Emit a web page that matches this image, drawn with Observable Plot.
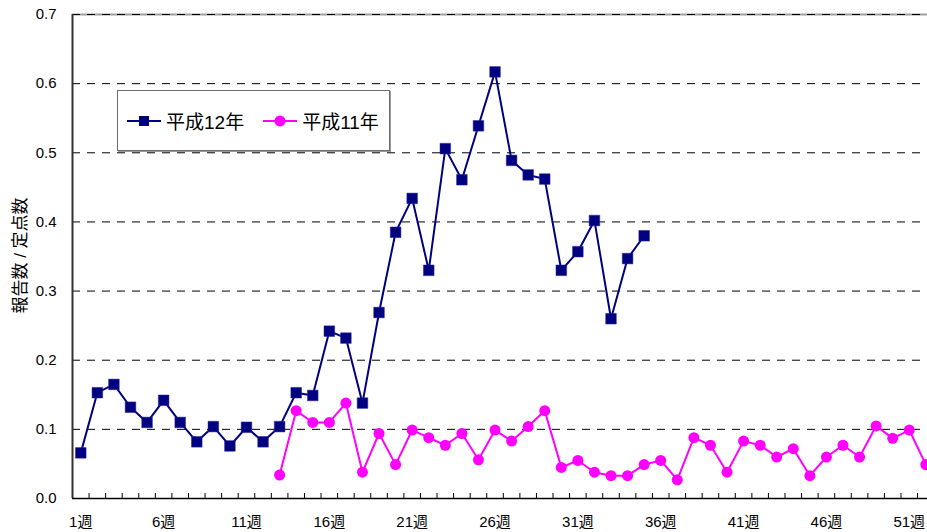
<!DOCTYPE html>
<html>
<head>
<meta charset="utf-8">
<script src="https://cdn.jsdelivr.net/npm/d3@7"></script>
<script src="https://cdn.jsdelivr.net/npm/@observablehq/plot@0.6"></script>
<style>
  html, body { margin: 0; padding: 0; background: #fff; }
  #wrap { position: relative; width: 927px; height: 532px; overflow: hidden; font-family: 'Liberation Sans', Arial, 'Noto Sans CJK JP', sans-serif; }
  #legend { position: absolute; left: 117px; top: 90px; width: 271px; height: 59px; border: 1px solid #6e6e6e; box-shadow: 1px 1px 0 #9a9a9a; background: #fff; display: flex; align-items: center; font-size: 19px; color: #000; }
  #legend .item { display: flex; align-items: center; }
  #legend svg { display: block; }
</style>
</head>
<body>
<div id="wrap"></div>
<script>
// ---- data ----
const seriesNames = ["平成12年", "平成11年"];
const seriesColors = ["#000080", "#FF00FF"];
// 平成12年: weeks 1–35
const heisei12Start = 1;
const heisei12 = [0.066,0.153,0.165,0.132,0.110,0.142,0.110,0.082,0.104,0.076,
                  0.103,0.082,0.104,0.153,0.149,0.242,0.232,0.138,0.269,0.385,
                  0.434,0.330,0.506,0.461,0.539,0.617,0.489,0.468,0.462,0.330,
                  0.357,0.402,0.260,0.347,0.380];
// 平成11年: weeks 13–52
const heisei11Start = 13;
const heisei11 = [0.034,0.127,0.110,0.110,0.138,0.038,0.094,0.049,0.099,0.088,
                  0.077,0.094,0.056,0.099,0.083,0.104,0.127,0.045,0.055,0.038,
                  0.033,0.033,0.049,0.055,0.027,0.088,0.077,0.038,0.083,0.077,
                  0.060,0.072,0.033,0.060,0.077,0.060,0.105,0.087,0.099,0.049];
const weekTickPositions = [1,6,11,16,21,26,31,36,41,46,51];
const weekTickLabels = ["1週","6週","11週","16週","21週","26週","31週","36週","41週","46週","51週"];
const yTicks = [0,0.1,0.2,0.3,0.4,0.5,0.6,0.7];
const yLabel = "報告数 / 定点数";

// ---- build ----
const d12 = heisei12.map((v, i) => ({week: heisei12Start + i, value: v}));
const d11 = heisei11.map((v, i) => ({week: heisei11Start + i, value: v}));
const xDomain = [0.5, 52.1];
const boundaries = d3.range(1.5, 52.5, 1);
const W = 927, H = 532, mT = 14, mB = 34, mL = 72, mR = 0;
const font = "'Liberation Sans', Arial, 'Noto Sans CJK JP', sans-serif";

const chart = Plot.plot({
  width: W, height: H,
  marginLeft: mL, marginRight: mR, marginTop: mT, marginBottom: mB,
  style: {fontFamily: font, fontSize: "15px", color: "#000", background: "#fff", overflow: "hidden"},
  x: {type: "linear", domain: xDomain, axis: null},
  y: {domain: [0, 0.7], axis: null},
  marks: [
    Plot.ruleY(yTicks.slice(1, -1), {stroke: "#000", strokeWidth: 1, strokeDasharray: "8,7"}),
    Plot.ruleY([yTicks[yTicks.length - 1]], {stroke: "#a0a0a0", strokeWidth: 2}),
    Plot.ruleY([yTicks[yTicks.length - 1]], {stroke: "#000", strokeWidth: 1, strokeDasharray: "8,7"}),
    Plot.axisY({ticks: yTicks, tickFormat: d3.format(".1f"), tickSize: 0, tickPadding: 16,
      fontSize: 15, label: null}),
    Plot.text([yLabel], {frameAnchor: "left", textAnchor: "middle", rotate: -90, dx: -52, dy: -1, fontSize: 17, fill: "#000"}),
    Plot.axisX({ticks: weekTickPositions, tickFormat: d => weekTickLabels[weekTickPositions.indexOf(d)],
      tickSize: 0, tickPadding: 18, fontSize: 15, label: null}),
    Plot.axisX({ticks: boundaries, tickSize: 5, dy: -5, tickFormat: () => "", label: null, stroke: "#000"}),
    Plot.ruleX([xDomain[0]], {stroke: "#333", strokeWidth: 2}),
    Plot.ruleY([0], {stroke: "#000", strokeWidth: 1.5}),
    Plot.line(d12, {x: "week", y: "value", stroke: seriesColors[0], strokeWidth: 2}),
    Plot.dot(d12, {x: "week", y: "value", symbol: "square", r: 6, fill: seriesColors[0], stroke: "#2a2a9a", strokeWidth: 0.5}),
    Plot.line(d11, {x: "week", y: "value", stroke: seriesColors[1], strokeWidth: 2}),
    Plot.dot(d11, {x: "week", y: "value", symbol: "circle", r: 5.5, fill: seriesColors[1]})
  ]
});
const wrap = document.getElementById("wrap");
wrap.appendChild(chart);

// legend
const legend = document.createElement("div");
legend.id = "legend";
function legendItem(name, color, shape, ml) {
  const item = document.createElement("div");
  item.className = "item";
  item.style.marginLeft = ml + "px";
  const ns = "http://www.w3.org/2000/svg";
  const s = document.createElementNS(ns, "svg");
  s.setAttribute("width", 34); s.setAttribute("height", 14);
  const l = document.createElementNS(ns, "line");
  l.setAttribute("x1", 0); l.setAttribute("x2", 34); l.setAttribute("y1", 7); l.setAttribute("y2", 7);
  l.setAttribute("stroke", color); l.setAttribute("stroke-width", 2);
  s.appendChild(l);
  let m;
  if (shape === "square") {
    m = document.createElementNS(ns, "rect");
    m.setAttribute("x", 12); m.setAttribute("y", 2); m.setAttribute("width", 10); m.setAttribute("height", 10);
  } else {
    m = document.createElementNS(ns, "circle");
    m.setAttribute("cx", 17); m.setAttribute("cy", 7); m.setAttribute("r", 5.5);
  }
  m.setAttribute("fill", color);
  s.appendChild(m);
  item.appendChild(s);
  const t = document.createElement("span");
  t.textContent = name;
  t.style.marginLeft = "5px";
  item.appendChild(t);
  return item;
}
legend.appendChild(legendItem(seriesNames[0], seriesColors[0], "square", 9));
legend.appendChild(legendItem(seriesNames[1], seriesColors[1], "circle", 19));
wrap.appendChild(legend);
</script>
</body>
</html>
